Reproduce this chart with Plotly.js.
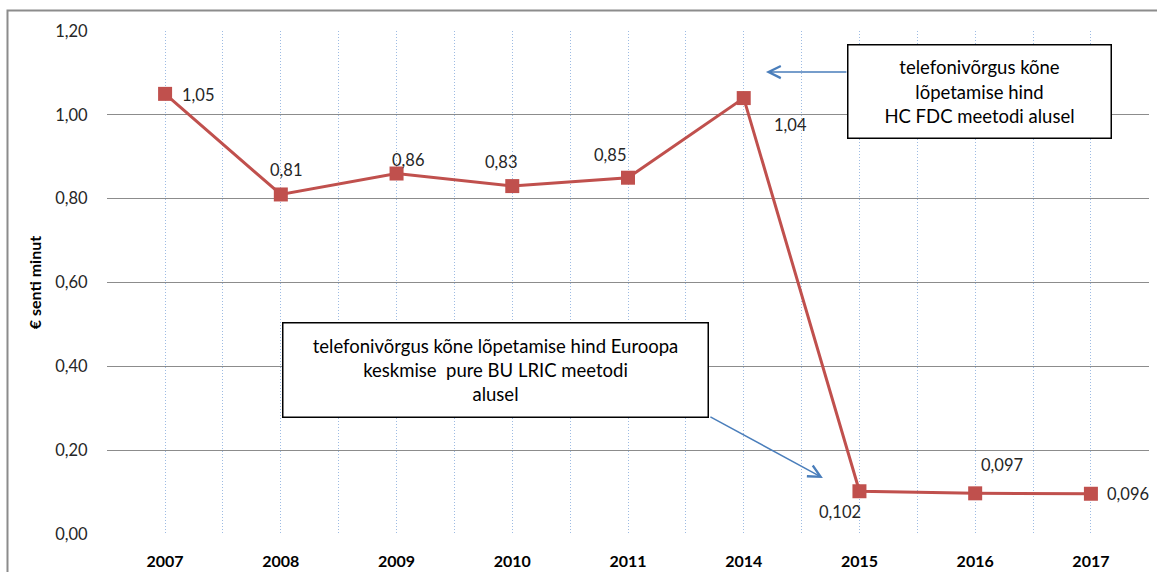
<!DOCTYPE html>
<html>
<head>
<meta charset="utf-8">
<script src="https://cdn.plot.ly/plotly-3.0.1.min.js"></script>
<style>
  html, body { margin: 0; padding: 0; background: #ffffff; }
  #chart { width: 1157px; height: 572px; }
</style>
</head>
<body>
<div id="chart"></div>
<script>
// ---- data ----
const categories = ['2007', '2008', '2009', '2010', '2011', '2014', '2015', '2016', '2017'];
const values = [1.05, 0.81, 0.86, 0.83, 0.85, 1.04, 0.102, 0.097, 0.096];
const yTitle = '€ senti minut';
const boxTextHCFDC = 'telefonivõrgus kõne<br>lõpetamise hind<br>HC FDC meetodi alusel';
const boxTextLRIC = 'telefonivõrgus kõne lõpetamise hind Euroopa<br>keskmise\u00a0 pure BU LRIC meetodi<br>alusel';

// label offsets (pixels) relative to each point
const labelShiftX = [33, 5, 11, -11, -18, 47, -19, 27, 37];
const labelShiftY = [-1, 24, 14, 24, 23, -27, -21, 28, 0];

const idx = categories.map((c, i) => i);
const FONT = 'Lato, "Open Sans", sans-serif';
const RED = '#c0504d';
const BLUE = '#4a7ebb';
const GRIDBLUE = '#9dbbe3';

const trace = {
  x: idx,
  y: values,
  type: 'scatter',
  mode: 'lines+markers',
  line: { color: RED, width: 3 },
  marker: { symbol: 'square', size: 14, color: RED },
  hoverinfo: 'skip',
  showlegend: false
};

const fmt = v => String(v).replace('.', ',');

const labelAnnotations = values.map((v, i) => ({
  x: idx[i], y: v, xref: 'x', yref: 'y',
  text: fmt(v), showarrow: false,
  xshift: labelShiftX[i], yshift: labelShiftY[i],
  font: { family: FONT, size: 16.5, color: '#262626' }
}));

const boxFont = { family: FONT, size: 18.5, color: '#000000' };

const otherAnnotations = [
  {
    xref: 'paper', yref: 'paper', x: 0.8378, y: 0.8807,
    xanchor: 'center', yanchor: 'middle',
    text: boxTextHCFDC, showarrow: false, align: 'center',
    width: 262, height: 92, borderpad: 0,
    bgcolor: '#ffffff', bordercolor: '#000000', borderwidth: 1.5,
    font: boxFont
  },
  {
    xref: 'paper', yref: 'paper', x: 0.3733, y: 0.327,
    xanchor: 'center', yanchor: 'middle',
    text: boxTextLRIC, showarrow: false, align: 'center',
    width: 424, height: 93, borderpad: 0,
    bgcolor: '#ffffff', bordercolor: '#000000', borderwidth: 1.5,
    font: boxFont
  },
  {
    xref: 'x', yref: 'y', axref: 'x', ayref: 'y',
    x: 5.192, y: 1.102, ax: 5.900, ay: 1.102,
    text: '', showarrow: true, arrowhead: 5, arrowsize: 1.6,
    arrowwidth: 1.5, arrowcolor: BLUE, standoff: 0, startstandoff: 0
  },
  {
    xref: 'x', yref: 'y', axref: 'x', ayref: 'y',
    x: 5.684, y: 0.1336, ax: 4.699, ay: 0.2815,
    text: '', showarrow: true, arrowhead: 5, arrowsize: 1.6,
    arrowwidth: 1.5, arrowcolor: BLUE, standoff: 0, startstandoff: 0
  }
];

const layout = {
  width: 1157,
  height: 572,
  margin: { l: 107, r: 8, t: 31, b: 38 },
  paper_bgcolor: '#ffffff',
  plot_bgcolor: '#ffffff',
  separators: ',.',
  showlegend: false,
  xaxis: {
    range: [-0.502, categories.length - 0.498],
    tickmode: 'array',
    tickvals: idx,
    ticktext: categories,
    ticks: 'outside', ticklen: 13, tickcolor: 'rgba(0,0,0,0)',
    tickfont: { family: FONT, size: 16, color: '#000000', weight: 'bold' },
    showgrid: true, gridcolor: GRIDBLUE, griddash: '1px,2px', gridwidth: 1,
    minor: { tick0: -0.5, dtick: 1, showgrid: true, gridcolor: GRIDBLUE, griddash: '1px,2px', gridwidth: 1 },
    zeroline: false, showline: false, fixedrange: true
  },
  yaxis: {
    range: [0, 1.2],
    tick0: 0, dtick: 0.2,
    tickformat: '.2f',
    ticks: 'outside', ticklen: 15, tickcolor: 'rgba(0,0,0,0)',
    tickfont: { family: FONT, size: 16.5, color: '#262626' },
    showgrid: true, gridcolor: '#8c8c8c', gridwidth: 1,
    zeroline: false, showline: false, fixedrange: true,
    title: { text: yTitle, standoff: 9, font: { family: FONT, size: 16, color: '#000000', weight: 'bold' } }
  },
  shapes: [
    {
      type: 'rect', xref: 'paper', yref: 'paper',
      x0: -0.0955, x1: 1.03, y0: -0.12, y1: 1.0408,
      line: { color: '#8c8c8c', width: 2 }, fillcolor: 'rgba(0,0,0,0)', layer: 'below'
    }
  ],
  annotations: labelAnnotations.concat(otherAnnotations)
};

Plotly.newPlot('chart', [trace], layout, { displayModeBar: false, staticPlot: true });
</script>
</body>
</html>
